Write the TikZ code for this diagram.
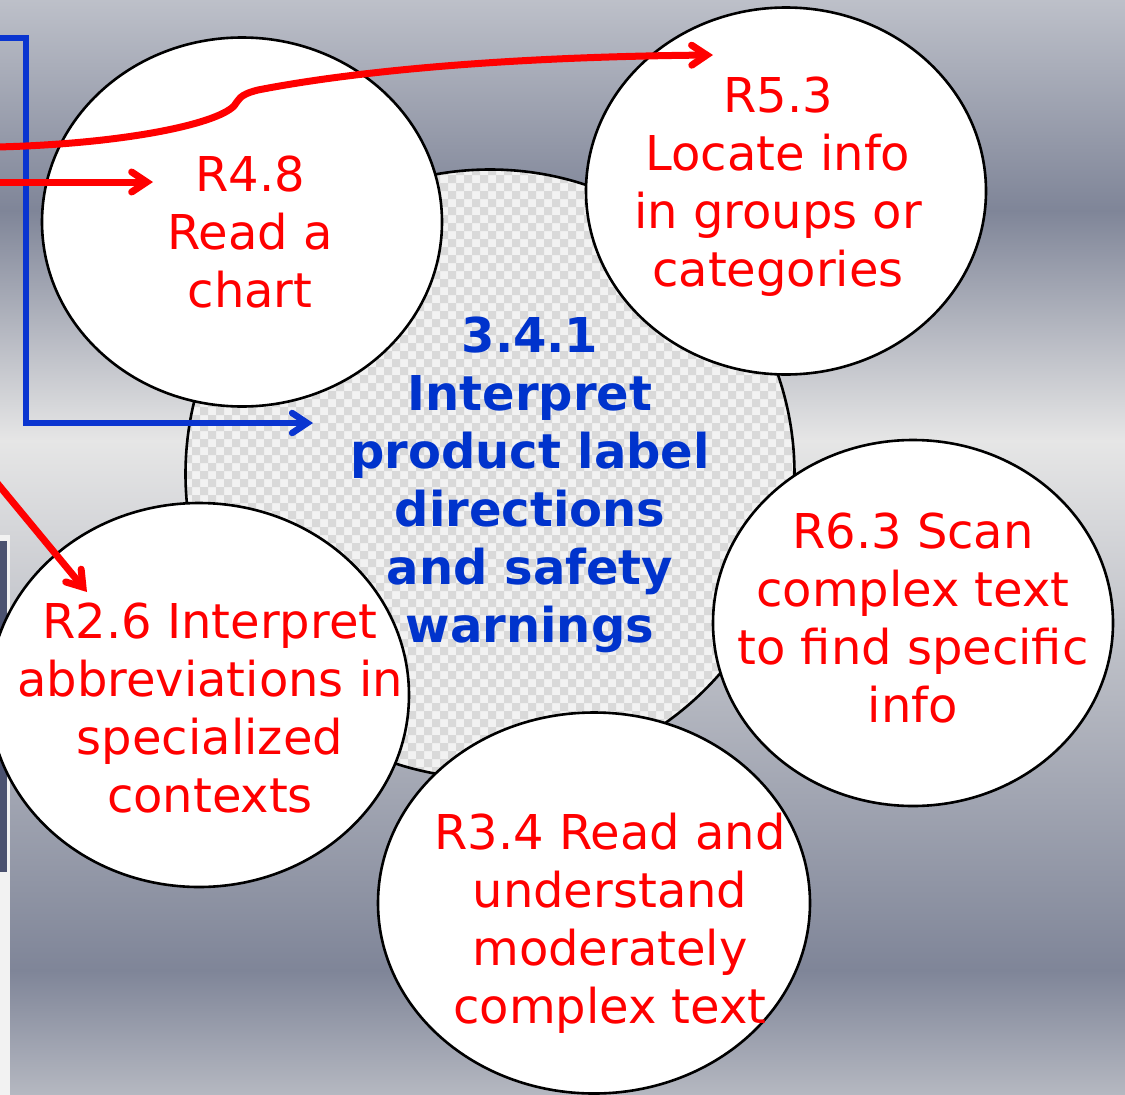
\documentclass[tikz,border=0pt]{standalone}
\usepackage{fontspec}
\setmainfont{DejaVu Sans}
\usetikzlibrary{shapes.geometric,arrows.meta}

\definecolor{bgA}{HTML}{BDC0C9}
\definecolor{bgB}{HTML}{7F8598}
\definecolor{bgC}{HTML}{E6E6E6}
\definecolor{bgD}{HTML}{B5B8C1}
\definecolor{chklight}{HTML}{F2F2F2}
\definecolor{chkdark}{HTML}{D9D9D9}
\definecolor{myblue}{HTML}{0033CC}
\definecolor{lineblue}{HTML}{0A35D0}
\definecolor{myred}{HTML}{FF0000}
\definecolor{stripdark}{HTML}{4B5270}
\definecolor{stripwhite}{HTML}{F2F2F2}

\begin{document}
\begin{tikzpicture}[x=1pt,y=-1pt,
  bubble/.style={ellipse, draw=black, line width=2.6pt, fill=white, inner sep=0pt},
  centre/.style={circle, draw=black, line width=2.6pt, inner sep=0pt},
  redtxt/.style={text=myred, align=center, inner sep=0pt,
    font=\fontsize{48}{58}\selectfont},
  bluetxt/.style={text=myblue, align=center, inner sep=0pt,
    font=\bfseries\fontsize{48}{58}\selectfont},
  redarrow/.style={draw=myred, line width=7pt, line cap=round,
    -{Straight Barb[length=15pt,width=20pt,line cap=round]}},
  bluearrow/.style={draw=lineblue, line width=6.5pt,
    -{Straight Barb[length=15pt,width=20pt,line cap=round]}}
]
% background
\useasboundingbox (0,0) rectangle (1125,1095);
\shade[top color=bgA, bottom color=bgB] (0,0) rectangle (1125,211);
\shade[top color=bgB, bottom color=bgC] (0,210) rectangle (1125,441);
\shade[top color=bgC, bottom color=bgB] (0,440) rectangle (1125,971);
\shade[top color=bgB, bottom color=bgD] (0,970) rectangle (1125,1095);
% screenshot strip at the left edge
\fill[stripwhite] (0,535) rectangle (10,1095);
\fill[stripdark] (0,541) rectangle (7,872);

% central circle with a checkerboard (transparency) fill
\begin{scope}
  \clip (490,474) circle (304.5);
  \fill[chklight] (184,167) rectangle (797,781);
  \foreach \i in {0,...,76} {
    \pgfmathtruncatemacro\off{mod(\i,2)*8}
    \fill[chkdark] \foreach \j in {0,16,...,608} {
      ({184+8*\i},{167+\j+\off}) rectangle ++(8,8)
    };
  }
\end{scope}
\node[centre, minimum size=609pt] (c) at (490,474) {};

% white bubbles
\node[bubble, minimum width=400pt, minimum height=369pt] (r48) at (242,222) {};
\node[bubble, minimum width=400pt, minimum height=367pt] (r53) at (786,191) {};
\node[bubble, minimum width=400pt, minimum height=366pt] (r63) at (913,623) {};
\node[bubble, minimum width=432pt, minimum height=381pt] (r34) at (594,903) {};
\node[bubble, minimum width=420pt, minimum height=384pt] (r26) at (199,695) {};

% texts
\node[bluetxt] (tc) at (530,484.5) {3.4.1\\Interpret\\product label\\directions\\and safety\\warnings};
\node[redtxt] (t48) at (250,232.5) {R4.8\\Read a\\chart};
\node[redtxt] (t53) at (778,187) {R5.3\\Locate info\\in groups or\\categories};
\node[redtxt] (t63) at (913,618.5) {R6.3 Scan\\complex text\\to find specific\\info};
\node[redtxt] (t26) at (210,708.5) {R2.6 Interpret\\abbreviations in\\specialized\\contexts};
\node[redtxt] (t34) at (610,923) {R3.4 Read and\\understand\\moderately\\complex text};

% connectors
\coordinate (bs) at (-3,38);
\coordinate (bc1) at (26,38);
\coordinate (bc2) at (26,423);
\coordinate (bt) at (313,423);
\draw[bluearrow] (bs) -- (bc1) -- (bc2) -- (bt);

\coordinate (ca) at (-3,147);
\coordinate (ck1) at (234,106);
\coordinate (ck2) at (258,90);
\coordinate (cat) at (713,55);
\draw[redarrow] (ca) .. controls (120,144) and (215,125) .. (ck1)
  .. controls (239,100) and (238,95) .. (ck2)
  .. controls (350,72) and (500,57) .. (cat);

\coordinate (sa) at (-3,182);
\coordinate (sat) at (153,182);
\draw[redarrow] (sa) -- (sat);

\coordinate (da) at (-3,483);
\coordinate (dat) at (87,592);
\draw[redarrow] (da) -- (dat);
\end{tikzpicture}
\end{document}
